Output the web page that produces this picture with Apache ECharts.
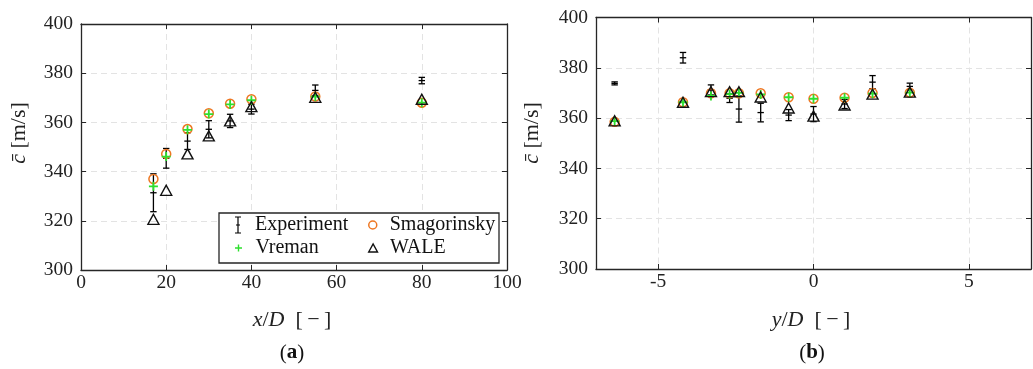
<!DOCTYPE html>
<html>
<head>
<meta charset="utf-8">
<script src="https://cdn.jsdelivr.net/npm/echarts@6/dist/echarts.min.js"></script>
<style>html,body{margin:0;padding:0;background:#fff;}#c{width:1033px;height:369px;}</style>
</head>
<body>
<div id="c"></div>
<script>
// ---- data: panel (a) ----
const xA = [17, 20, 25, 30, 35, 40, 55, 80];
const expA = [331.4, 345.4, 352.4, 357.2, 360.6, 365.4, 373.0, 377.0];
const errA = [7.7, 4.0, 3.4, 3.5, 2.7, 2.0, 2.2, 1.3];
const smagA = [337.0, 347.2, 357.3, 363.7, 367.6, 369.4, 370.5, 368.0];
const vremA = [334.0, 346.1, 357.0, 363.4, 367.3, 369.0, 370.5, 368.0];
const waleA = [320.6, 332.4, 347.2, 354.5, 360.6, 366.4, 370.2, 369.4];
// ---- data: panel (b) ----
const xB = [-6.4, -4.2, -3.3, -2.7, -2.4, -1.7, -0.8, 0, 1.0, 1.9, 3.1];
const expB = [373.8, 384.0, 371.2, 367.9, 363.6, 362.2, 361.2, 361.6, 365.6, 374.3, 372.6];
const errB = [0.6, 2.1, 2.0, 1.7, 5.2, 3.7, 2.2, 3.0, 1.8, 2.6, 1.3];
const smagB = [358.5, 366.3, 369.9, 369.9, 369.9, 369.9, 368.3, 367.7, 368.1, 370.0, 370.1];
const vremB = [358.8, 366.3, 368.8, 369.5, 370.0, 369.4, 368.3, 367.7, 368.1, 369.7, 370.1];
const waleB = [358.9, 366.3, 370.5, 370.5, 370.5, 368.4, 364.0, 360.8, 365.2, 369.5, 370.3];
// ---- ticks ----
const xTicksA = [0, 20, 40, 60, 80, 100];
const xTicksB = [-5, 0, 5];
const yTicks = [300, 320, 340, 360, 380, 400];

const FONT = "'Liberation Serif','DejaVu Serif',serif";
const AX = '#262626';
const ORANGE = '#EE7722';
const GREEN = '#2EE02E';
const PLUS = 'path://M2,0H3V2H5V3H3V5H2V3H0V2H2Z';
const IBEAM = 'path://M0,0H6V1H3.6V8H5V9H3.6V16H6V17H0V16H2.4V9H1V8H2.4V1H0Z';
const TRI = 'path://M0,10L5.5,0L11,10Z';

function zip(xs, ys) { return xs.map((x, i) => [x, ys[i]]); }
function zip3(xs, ys, es) { return xs.map((x, i) => [x, ys[i], es[i]]); }

function renderErr(params, api) {
  const x = api.value(0), c = api.value(1), e = api.value(2);
  const pc = api.coord([x, c]);
  const ph = api.coord([x, c + e]);
  const pl = api.coord([x, c - e]);
  const st = { stroke: '#000', lineWidth: 1.3, fill: null };
  const w = 3.2;
  return { type: 'group', children: [
    { type: 'line', shape: { x1: pc[0], y1: ph[1], x2: pc[0], y2: pl[1] }, style: st },
    { type: 'line', shape: { x1: pc[0] - w, y1: ph[1], x2: pc[0] + w, y2: ph[1] }, style: st },
    { type: 'line', shape: { x1: pc[0] - w, y1: pl[1], x2: pc[0] + w, y2: pl[1] }, style: st },
    { type: 'line', shape: { x1: pc[0] - w, y1: pc[1], x2: pc[0] + w, y2: pc[1] }, style: st }
  ]};
}

function xAx(grid, min, max, ticks, pos, main) {
  return {
    type: 'value', gridIndex: grid, position: pos, min: min, max: max,
    interval: (grid === 0 ? 20 : undefined),
    axisLine: { show: true, onZero: false, lineStyle: { color: AX, width: 1.3 } },
    axisTick: { show: true, inside: true, length: 5, lineStyle: { color: AX, width: 1 }, customValues: ticks },
    axisLabel: { show: main, customValues: ticks, color: '#222', fontFamily: FONT, fontSize: 19.5, margin: 3, showMinLabel: true, showMaxLabel: true, hideOverlap: false },
    splitLine: { show: main, lineStyle: { color: '#e3e3e3', type: [6, 4], width: 1 } }
  };
}
function yAx(grid, pos, main) {
  return {
    type: 'value', gridIndex: grid, position: pos, min: 300, max: 400, interval: 20,
    axisLine: { show: true, onZero: false, lineStyle: { color: AX, width: 1.3 } },
    axisTick: { show: true, inside: true, length: 5, lineStyle: { color: AX, width: 1 } },
    axisLabel: { show: main, color: '#222', fontFamily: FONT, fontSize: 19.5, margin: 8, showMinLabel: true, showMaxLabel: true, hideOverlap: false },
    splitLine: { show: main, lineStyle: { color: '#e3e3e3', type: [6, 4], width: 1 } }
  };
}

function seriesFor(grid, xs, exp, err, smag, vrem, wale) {
  const common = { xAxisIndex: grid * 2, yAxisIndex: grid * 2, silent: true, emphasis: { disabled: true }, animation: false };
  return [
    Object.assign({ type: 'custom', name: 'Experiment', renderItem: renderErr, data: zip3(xs, exp, err),
      encode: { x: 0, y: 1 }, itemStyle: { color: '#000' }, z: 2 }, common),
    Object.assign({ type: 'scatter', name: 'Smagorinsky', data: zip(xs, smag), symbol: 'circle', symbolSize: 9,
      itemStyle: { color: 'rgba(255,255,255,0)', borderColor: ORANGE, borderWidth: 1.5, opacity: 1 }, z: 3 }, common),
    Object.assign({ type: 'scatter', name: 'Vreman', data: zip(xs, vrem), symbol: PLUS, symbolSize: 9,
      itemStyle: { color: GREEN, opacity: 1 }, z: 4 }, common),
    Object.assign({ type: 'scatter', name: 'WALE', data: zip(xs, wale), symbol: 'triangle', symbolSize: [11, 10],
      itemStyle: { color: 'rgba(255,255,255,0)', borderColor: '#111', borderWidth: 1.4, opacity: 1 }, z: 5 }, common)
  ];
}

function legendItem(name, icon, style, left, top, iw, ih) {
  return {
    data: [{ name: name, icon: icon, itemStyle: style }],
    left: left, top: top, orient: 'vertical', padding: 0, itemWidth: iw, itemHeight: ih,
    selectedMode: false, textStyle: { fontFamily: FONT, fontSize: 20, color: '#111', lineHeight: 20 }, z: 10
  };
}

const chart = echarts.init(document.getElementById('c'), null, { renderer: 'canvas' });
chart.setOption({
  animation: false,
  backgroundColor: '#fff',
  grid: [
    { left: 81, top: 24, width: 426, height: 246 },
    { left: 596, top: 17.5, width: 435, height: 251.5 }
  ],
  xAxis: [
    xAx(0, 0, 100, xTicksA, 'bottom', true),
    xAx(0, 0, 100, xTicksA, 'top', false),
    xAx(1, -7, 7, xTicksB, 'bottom', true),
    xAx(1, -7, 7, xTicksB, 'top', false)
  ],
  yAxis: [
    yAx(0, 'left', true), yAx(0, 'right', false),
    yAx(1, 'left', true), yAx(1, 'right', false)
  ],
  legend: [
    legendItem('Experiment', IBEAM, { color: '#000', borderWidth: 0 }, 235, 215, 24, 17),
    legendItem('Vreman', PLUS, { color: GREEN, borderWidth: 0 }, 235, 238, 24, 7),
    legendItem('Smagorinsky', 'circle', { color: 'rgba(255,255,255,0)', borderColor: ORANGE, borderWidth: 1.5 }, 368, 215, 24, 8),
    legendItem('WALE', TRI, { color: 'rgba(255,255,255,0)', borderColor: '#111', borderWidth: 1.4 }, 368, 238, 24, 8)
  ],
  graphic: [
    { type: 'rect', shape: { x: 219, y: 213, width: 280, height: 50 }, style: { fill: '#fff', stroke: AX, lineWidth: 1.3 }, z: 8, silent: true },
    { type: 'text', x: 19, y: 133, rotation: Math.PI / 2, silent: true,
      style: { text: '{i|c\u0304} [m/s]', rich: { i: { fontStyle: 'italic', fontFamily: FONT, fontSize: 22, fill: '#222' } },
        font: "22px 'Liberation Serif','DejaVu Serif',serif", fill: '#222', align: 'center', verticalAlign: 'middle' } },
    { type: 'text', x: 532, y: 133, rotation: Math.PI / 2, silent: true,
      style: { text: '{i|c\u0304} [m/s]', rich: { i: { fontStyle: 'italic', fontFamily: FONT, fontSize: 22, fill: '#222' } },
        font: "22px 'Liberation Serif','DejaVu Serif',serif", fill: '#222', align: 'center', verticalAlign: 'middle' } },
    { type: 'text', x: 292, y: 320, silent: true,
      style: { text: '{i|x}/{i|D}\u2002[\u2009\u2212\u2009]', rich: { i: { fontStyle: 'italic', fontFamily: FONT, fontSize: 22, fill: '#222' } },
        font: "22px 'Liberation Serif','DejaVu Serif',serif", fill: '#222', align: 'center', verticalAlign: 'middle' } },
    { type: 'text', x: 811, y: 320, silent: true,
      style: { text: '{i|y}/{i|D}\u2002[\u2009\u2212\u2009]', rich: { i: { fontStyle: 'italic', fontFamily: FONT, fontSize: 22, fill: '#222' } },
        font: "22px 'Liberation Serif','DejaVu Serif',serif", fill: '#222', align: 'center', verticalAlign: 'middle' } },
    { type: 'text', x: 292, y: 353, silent: true,
      style: { text: '({b|a})', rich: { b: { fontWeight: 'bold', fontFamily: FONT, fontSize: 21, fill: '#111' } },
        font: "21px 'Liberation Serif','DejaVu Serif',serif", fill: '#111', align: 'center', verticalAlign: 'middle' } },
    { type: 'text', x: 812, y: 353, silent: true,
      style: { text: '({b|b})', rich: { b: { fontWeight: 'bold', fontFamily: FONT, fontSize: 21, fill: '#111' } },
        font: "21px 'Liberation Serif','DejaVu Serif',serif", fill: '#111', align: 'center', verticalAlign: 'middle' } }
  ],
  series: [].concat(
    seriesFor(0, xA, expA, errA, smagA, vremA, waleA),
    seriesFor(1, xB, expB, errB, smagB, vremB, waleB)
  )
});
</script>
</body>
</html>
